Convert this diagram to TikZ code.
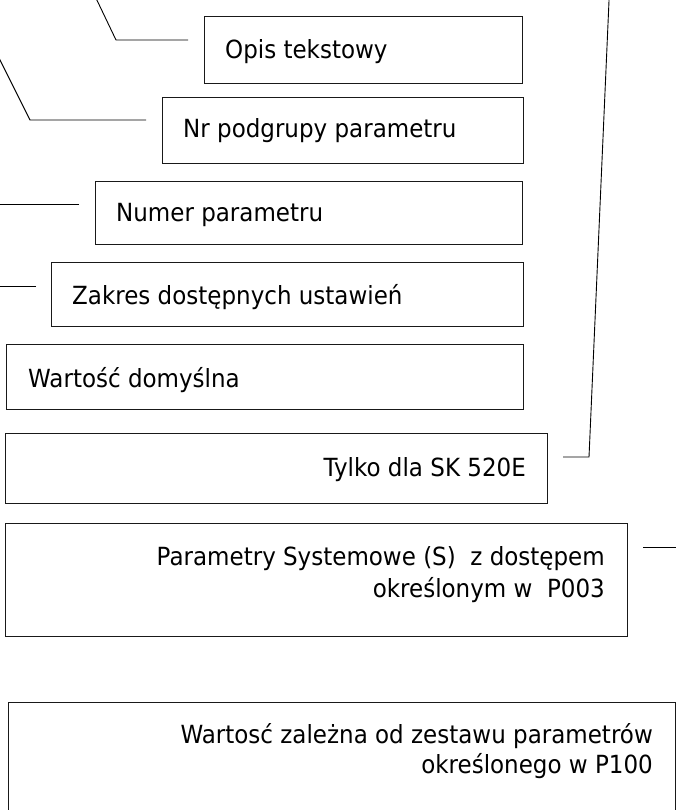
\documentclass[tikz,border=0pt]{standalone}
\usepackage{fontspec}
\setmainfont{DejaVu Sans}[FakeStretch=0.92]
\begin{document}
\begin{tikzpicture}[x=1pt,y=-1pt,
  box/.style={draw=black!90,line width=1pt,anchor=north west,inner sep=0pt},
  lbl/.style={inner sep=0pt,font=\fontsize{25}{30}\selectfont},
  lead/.style={draw=black,line width=0.9pt}]
\clip (0,0) rectangle (676,810);
% boxes
\node[box,minimum width=318pt,minimum height=67pt] (b1) at (204,16) {};
\node[box,minimum width=361pt,minimum height=66pt] (b2) at (162,97) {};
\node[box,minimum width=427pt,minimum height=63pt] (b3) at (95,181) {};
\node[box,minimum width=472pt,minimum height=64pt] (b4) at (51,262) {};
\node[box,minimum width=517pt,minimum height=65pt] (b5) at (6,344) {};
\node[box,minimum width=542pt,minimum height=70pt] (b6) at (5,433) {};
\node[box,minimum width=622pt,minimum height=113pt] (b7) at (5,523) {};
\node[box,minimum width=667pt,minimum height=130pt] (b8) at (8,702) {};
% texts
\node[lbl,anchor=base west] (t1) at (225,59) {Opis tekstowy};
\node[lbl,anchor=base west] (t2) at (183,138) {Nr podgrupy parametru};
\node[lbl,anchor=base west] (t3) at (116,222) {Numer parametru};
\node[lbl,anchor=base west] (t4) at (72,304) {Zakres dostępnych ustawień};
\node[lbl,anchor=base west] (t5) at (28,387) {Wartość domyślna};
\node[lbl,anchor=base east] (t6) at (526,476) {Tylko dla SK 520E};
\node[lbl,anchor=base east] (t7a) at (605,565) {Parametry Systemowe (S)\ \ z dostępem};
\node[lbl,anchor=base east] (t7b) at (605,597) {określonym w\ \ P003};
\node[lbl,anchor=base east] (t8a) at (653,743) {Wartosć zależna od zestawu parametrów};
\node[lbl,anchor=base east] (t8b) at (653,773) {określonego w P100};
% leader lines
\coordinate (l1a) at (188,40); \coordinate (l1b) at (116,40); \coordinate (l1c) at (94,-6);
\coordinate (l2a) at (146,120); \coordinate (l2b) at (30,120); \coordinate (l2c) at (-3,54);
\coordinate (l3a) at (79,204); \coordinate (l3b) at (-2,204);
\coordinate (l4a) at (36,286); \coordinate (l4b) at (-2,286);
\coordinate (l6a) at (563,457); \coordinate (l6b) at (589,457); \coordinate (l6c) at (609.3,-6);
\coordinate (l7a) at (643,547); \coordinate (l7b) at (678,547);
\draw[lead] (l1a) -- (l1b) -- (l1c);
\draw[lead] (l2a) -- (l2b) -- (l2c);
\draw[lead] (l3a) -- (l3b);
\draw[lead] (l4a) -- (l4b);
\draw[lead] (l6a) -- (l6b) -- (l6c);
\draw[lead] (l7a) -- (l7b);
\end{tikzpicture}
\end{document}
